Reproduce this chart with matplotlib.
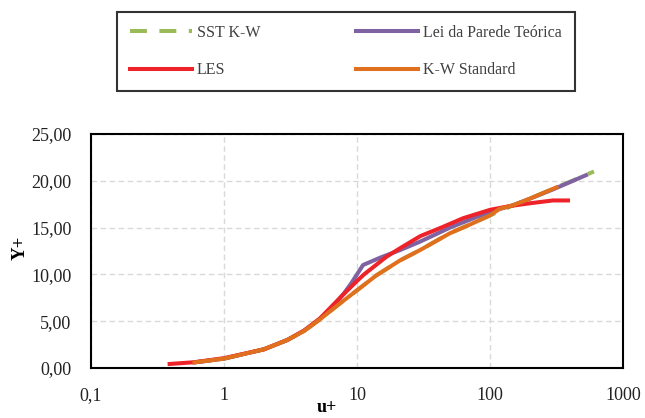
import matplotlib
matplotlib.use("Agg")
import matplotlib.pyplot as plt
from matplotlib.ticker import FixedLocator, FuncFormatter, NullLocator

plt.rcParams["font.family"] = ["Liberation Serif", "DejaVu Serif"]

# SST K-W (drawn first, mostly hidden under K-W Standard)
sst_u = [0.6, 1, 2, 3, 4, 5.27, 7.45, 10, 14, 21.1, 29.8, 50, 70, 100, 150, 200, 316, 450, 605]
sst_y = [0.6, 1.0, 2.0, 3.0, 3.95, 5.2, 6.9, 8.3, 9.9, 11.5, 12.6, 14.4, 15.3, 16.3, 17.4, 18.1, 19.3, 20.2, 21.0]

# Lei da Parede Teorica
lei_u = [0.6, 1, 2, 3, 4, 5, 6, 7, 8, 9, 10, 11.1, 15, 21.1, 29.8, 50, 100, 150, 200, 300, 527]
lei_y = [0.6, 1, 2, 3, 4, 5, 6, 7, 8, 9, 10, 11.0, 11.8, 12.6, 13.5, 15.0, 16.7, 17.4, 18.1, 19.1, 20.6]

# LES
les_u = [0.39, 0.6, 1, 2, 3, 4, 5.27, 7.45, 10, 11.3, 16.7, 21.1, 30, 43, 62.7, 100, 141, 200, 297, 386]
les_y = [0.43, 0.62, 1.05, 2.0, 3.0, 4.0, 5.3, 7.5, 9.3, 10.0, 11.9, 12.8, 14.1, 15.0, 16.0, 16.9, 17.3, 17.6, 17.9, 17.9]

# K-W Standard
kw_u = [0.6, 1, 2, 3, 4, 5.27, 7.45, 10, 14, 21.1, 29.8, 50, 70, 100, 118, 150, 200, 316]
kw_y = [0.6, 1.0, 2.0, 3.0, 3.95, 5.2, 6.9, 8.3, 9.9, 11.5, 12.6, 14.4, 15.3, 16.3, 17.0, 17.4, 18.1, 19.3]

x_ticks = [0.1, 1, 10, 100, 1000]
x_tick_labels = ["0,1", "1", "10", "100", "1000"]
y_ticks = [0, 5, 10, 15, 20, 25]

fig = plt.figure(figsize=(6.45, 4.18), dpi=100)
ax = fig.add_axes([91 / 645, 1 - 368 / 418, 532 / 645, 234 / 418])

lw = 2.9
h_sst, = ax.plot(sst_u, sst_y, color="#9BBB59", lw=lw, dashes=(4.2, 3.1), label="SST K-W")
h_lei, = ax.plot(lei_u, lei_y, color="#7F62A1", lw=lw, label="Lei da Parede Teórica")
h_les, = ax.plot(les_u, les_y, color="#EE2229", lw=lw, label="LES")
h_kw, = ax.plot(kw_u, kw_y, color="#E0701E", lw=lw, label="K-W Standard")

ax.set_xscale("log")
ax.set_xlim(0.1, 1000)
ax.set_ylim(0, 25)
ax.xaxis.set_major_locator(FixedLocator(x_ticks))
ax.xaxis.set_minor_locator(NullLocator())
ax.set_xticklabels(x_tick_labels)
ax.yaxis.set_major_locator(FixedLocator(y_ticks))
ax.yaxis.set_major_formatter(FuncFormatter(lambda v, _: "{0:.2f}".format(v).replace(".", ",")))

ax.grid(True, color="#D9D9D9", lw=1.0, dashes=(4, 2.5))
ax.set_axisbelow(True)
for side in ["left", "right", "top", "bottom"]:
    ax.spines[side].set_color("black")
    ax.spines[side].set_linewidth(1.5)
ax.tick_params(length=0, pad=14, labelsize=13, labelcolor="#222222")

ax.set_xlabel("u+", fontsize=13, fontweight="bold")
ax.xaxis.set_label_coords(0.444, -0.132)
ax.set_ylabel("Y+", fontsize=13.5, fontweight="bold")
ax.yaxis.set_label_coords(-0.118, 0.513)

# legend fills column-wise, so order handles to get SST | Lei on the first row
handles = [h_sst, h_les, h_lei, h_kw]
leg = fig.legend(
    handles,
    [h.get_label() for h in handles],
    loc="upper left",
    bbox_to_anchor=(117 / 645, 1 - 12 / 418),
    ncol=2,
    fontsize=11.5,
    frameon=True,
    fancybox=False,
    handlelength=3.9,
    handletextpad=0.3,
    columnspacing=6.0,
    labelspacing=1.35,
    borderpad=0.8,
    borderaxespad=0,
)
leg.get_frame().set_edgecolor("black")
leg.get_frame().set_linewidth(1.5)
for t in leg.get_texts():
    t.set_color("#404040")

fig.savefig("out.png", dpi=100)
